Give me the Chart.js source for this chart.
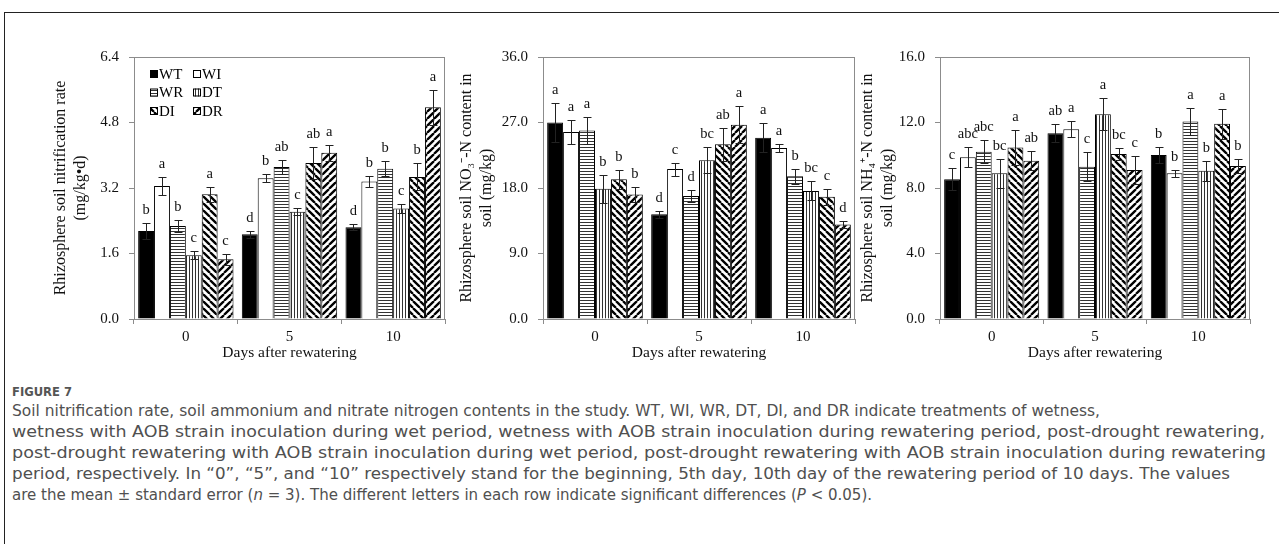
<!DOCTYPE html>
<html lang="en">
<head>
<meta charset="UTF-8" />
<title>Figure 7</title>
<script src="https://cdn.jsdelivr.net/npm/chart.js"></script>
<style>
  body { margin: 0; background: #fff; width: 1279px; height: 544px; overflow: hidden; position: relative; }
  #frame { position: absolute; left: 4px; top: 12px; width: 1300px; height: 600px;
           border-top: 1px solid #222; border-left: 1px solid #222; }
  canvas { position: absolute; top: 0; }
  .cap { position: absolute; left: 12px; width: max-content; white-space: nowrap; color: #505050;
         font-family: "Liberation Sans Narrow", "DejaVu Sans Condensed", "Open Sans", sans-serif;
         font-size: 15.5px; line-height: 18px; transform-origin: 0 50%; }
  #fig { font-size: 12.5px; font-weight: bold; color: #555; }
</style>
</head>
<body>
<div id="frame"></div>
<canvas id="c1" width="455" height="370" style="left:0"></canvas>
<canvas id="c2" width="401" height="370" style="left:455px"></canvas>
<canvas id="c3" width="420" height="370" style="left:856px"></canvas>

<div class="cap" id="fig" style="top:383px" data-w="60">FIGURE 7</div>
<div class="cap" style="top:402px" data-w="1088">Soil nitrification rate, soil ammonium and nitrate nitrogen contents in the study. WT, WI, WR, DT, DI, and DR indicate treatments of wetness,</div>
<div class="cap" style="top:423px" data-w="1253">wetness with AOB strain inoculation during wet period, wetness with AOB strain inoculation during rewatering period, post-drought rewatering,</div>
<div class="cap" style="top:444px" data-w="1254">post-drought rewatering with AOB strain inoculation during wet period, post-drought rewatering with AOB strain inoculation during rewatering</div>
<div class="cap" style="top:465px" data-w="1218">period, respectively. In “0”, “5”, and “10” respectively stand for the beginning, 5th day, 10th day of the rewatering period of 10 days. The values</div>
<div class="cap" style="top:486px" data-w="860">are the mean ± standard error (<i>n</i> = 3). The different letters in each row indicate significant differences (<i>P</i> &lt; 0.05).</div>

<script>
  const groups = ['0', '5', '10'];
  const treatments = ['WT', 'WI', 'WR', 'DT', 'DI', 'DR'];

  // rows = treatments, columns = days
  const nitrMeans = [
    [2.15, 2.07, 2.24],
    [3.25, 3.44, 3.36],
    [2.27, 3.71, 3.67],
    [1.56, 2.62, 2.70],
    [3.05, 3.81, 3.47],
    [1.46, 4.06, 5.17]
  ];
  const nitrErrs = [
    [0.19, 0.08, 0.07],
    [0.21, 0.10, 0.14],
    [0.15, 0.17, 0.18],
    [0.10, 0.08, 0.11],
    [0.18, 0.40, 0.33],
    [0.14, 0.20, 0.43]
  ];
  const nitrLetters = [
    ['b', 'd', 'd'],
    ['a', 'b', 'b'],
    ['b', 'ab', 'b'],
    ['c', 'c', 'c'],
    ['a', 'ab', 'b'],
    ['c', 'a', 'a']
  ];
  const nitrTicks = [0, 1.6, 3.2, 4.8, 6.4];

  const no3Means = [
    [27.0, 14.4, 24.9],
    [25.7, 20.6, 23.5],
    [25.9, 16.9, 19.6],
    [17.9, 21.8, 17.6],
    [19.2, 24.0, 16.8],
    [17.1, 26.7, 13.0]
  ];
  const no3Errs = [
    [2.7, 0.5, 2.0],
    [1.6, 0.9, 0.6],
    [1.8, 0.8, 1.0],
    [1.9, 1.8, 1.3],
    [1.3, 2.3, 1.1],
    [1.0, 2.5, 0.5]
  ];
  const no3Letters = [
    ['a', 'd', 'a'],
    ['a', 'c', 'a'],
    ['a', 'd', 'b'],
    ['b', 'bc', 'bc'],
    ['b', 'ab', 'c'],
    ['b', 'a', 'd']
  ];
  const no3Ticks = [0, 9, 18, 27, 36];

  const nh4Means = [
    [8.53, 11.35, 10.02],
    [9.88, 11.59, 8.90],
    [10.22, 9.30, 12.06],
    [8.90, 12.51, 9.06],
    [10.47, 10.08, 11.92],
    [9.67, 9.10, 9.35]
  ];
  const nh4Errs = [
    [0.67, 0.57, 0.47],
    [0.60, 0.50, 0.20],
    [0.70, 0.88, 0.82],
    [0.87, 0.96, 0.61],
    [1.08, 0.39, 0.92],
    [0.60, 0.88, 0.41]
  ];
  const nh4Letters = [
    ['c', 'ab', 'b'],
    ['abc', 'a', 'b'],
    ['abc', 'c', 'a'],
    ['bc', 'a', 'b'],
    ['a', 'bc', 'a'],
    ['ab', 'c', 'b']
  ];
  const nh4Ticks = [0, 4, 8, 12, 16];

  const serif = '"Liberation Serif", "Times New Roman", serif';
  const axisGray = '#8c8c8c';

  // fill patterns for the bars
  function hatch(kind) {
    const c = document.createElement('canvas');
    const g = c.getContext('2d');
    if (kind === 'solid') return '#000';
    if (kind === 'white') return '#fff';
    if (kind === 'h') {
      c.width = 4; c.height = 3;
      g.fillStyle = '#fff'; g.fillRect(0, 0, 4, 3);
      g.fillStyle = '#333'; g.fillRect(0, 0, 4, 1);
    } else if (kind === 'v') {
      c.width = 3; c.height = 4;
      g.fillStyle = '#fff'; g.fillRect(0, 0, 3, 4);
      g.fillStyle = '#333'; g.fillRect(0, 0, 1, 4);
    } else {
      const s = 7;
      c.width = s; c.height = s;
      g.fillStyle = '#fff'; g.fillRect(0, 0, s, s);
      g.strokeStyle = '#000'; g.lineWidth = 2.3;
      g.beginPath();
      for (let k = -1; k <= 1; k++) {
        if (kind === 'back') { g.moveTo(k * s, 0); g.lineTo(k * s + s, s); }
        else { g.moveTo(k * s, s); g.lineTo(k * s + s, 0); }
      }
      g.stroke();
    }
    return g.createPattern(c, 'repeat');
  }
  const fills = ['solid', 'white', 'h', 'v', 'back', 'fwd'].map(hatch);

  const boxPlugin = {
    id: 'box',
    afterDatasetsDraw(chart) {
      const a = chart.chartArea, ctx = chart.ctx;
      ctx.save();
      ctx.strokeStyle = axisGray;
      ctx.lineWidth = 1;
      ctx.strokeRect(Math.round(a.left) + 0.5, Math.round(a.top) + 0.5,
                     Math.round(a.right - a.left) - 1, Math.round(a.bottom - a.top));
      ctx.restore();
    }
  };

  function errPlugin(errs, letters) {
    return {
      id: 'errs',
      afterDatasetsDraw(chart) {
        const ctx = chart.ctx, ys = chart.scales.y;
        ctx.save();
        ctx.strokeStyle = '#222';
        ctx.lineWidth = 1;
        ctx.fillStyle = '#111';
        ctx.font = '14.5px ' + serif;
        ctx.textAlign = 'center';
        ctx.textBaseline = 'middle';
        chart.data.datasets.forEach((ds, i) => {
          chart.getDatasetMeta(i).data.forEach((bar, j) => {
            const m = ds.data[j], e = errs[i][j];
            const x = Math.round(bar.x) + 0.5;
            const yt = Math.round(ys.getPixelForValue(m + e)) + 0.5;
            const yb = Math.round(ys.getPixelForValue(m - e)) + 0.5;
            ctx.beginPath();
            ctx.moveTo(x, yt); ctx.lineTo(x, yb);
            ctx.moveTo(x - 4, yt); ctx.lineTo(x + 4, yt);
            ctx.moveTo(x - 4, yb); ctx.lineTo(x + 4, yb);
            ctx.stroke();
            ctx.fillText(letters[i][j], bar.x, yt - 13);
          });
        });
        ctx.restore();
      }
    };
  }

  const legendPlugin = {
    id: 'boxLegend',
    afterDraw(chart) {
      const ctx = chart.ctx, a = chart.chartArea;
      ctx.save();
      ctx.font = '15px ' + serif;
      ctx.textBaseline = 'middle';
      ctx.fillStyle = '#000';
      treatments.forEach((t, i) => {
        const col = i % 2, row = Math.floor(i / 2);
        const x = a.left + 16 + col * 43;
        const y = a.top + 17 + row * 18.5;
        ctx.fillStyle = fills[i];
        ctx.fillRect(x, y - 4, 8, 8);
        ctx.strokeStyle = '#000';
        ctx.lineWidth = 1;
        ctx.strokeRect(x + 0.5, y - 3.5, 7, 7);
        ctx.fillStyle = '#000';
        ctx.fillText(t, x + 9, y + 1);
      });
      ctx.restore();
    }
  };

  function makePanel(id, means, errs, letters, ticks, title, padLeft, yWidth, padRight, withLegend) {
    const plugins = [boxPlugin, errPlugin(errs, letters)];
    if (withLegend) plugins.push(legendPlugin);
    new Chart(document.getElementById(id), {
      type: 'bar',
      data: {
        labels: groups,
        datasets: treatments.map((t, i) => ({
          label: t,
          data: means[i],
          backgroundColor: fills[i],
          borderColor: '#000',
          borderWidth: 1,
          categoryPercentage: 0.92,
          barPercentage: 1
        }))
      },
      options: {
        responsive: false,
        animation: false,
        devicePixelRatio: 1,
        layout: { padding: { left: padLeft, right: padRight, top: 57, bottom: 8 } },
        plugins: { legend: { display: false }, tooltip: { enabled: false } },
        scales: {
          x: {
            offset: true,
            grid: { offset: true, drawOnChartArea: false, drawTicks: true, tickLength: 5, color: axisGray },
            border: { color: axisGray },
            ticks: { color: '#111', font: { family: serif, size: 15 }, padding: 4 },
            title: { display: true, text: 'Days after rewatering', color: '#111',
                     font: { family: serif, size: 15.5 }, padding: { top: 0, bottom: 0 } },
            afterFit: s => { s.height = 43; }
          },
          y: {
            min: ticks[0],
            max: ticks[ticks.length - 1],
            afterBuildTicks: s => { s.ticks = ticks.map(v => ({ value: v })); },
            grid: { drawOnChartArea: false, drawTicks: true, tickLength: 5, color: axisGray },
            border: { color: axisGray },
            ticks: { color: '#111', font: { family: serif, size: 15 }, padding: 10,
                     callback: v => Number(v).toFixed(1) },
            title: { display: true, text: title, color: '#111',
                     font: { family: serif, size: 16, lineHeight: 1.25 }, padding: { top: 0, bottom: 0 } },
            afterFit: s => { s.width = yWidth; }
          }
        }
      },
      plugins
    });
  }

  makePanel('c1', nitrMeans, nitrErrs, nitrLetters, nitrTicks,
            ['Rhizosphere soil nitrification rate', '(mg/kg•d)'], 51, 83, 10, true);
  makePanel('c2', no3Means, no3Errs, no3Letters, no3Ticks,
            ['Rhizosphere soil NO₃⁻-N content in', 'soil (mg/kg)'], 2, 86, 1, false);
  makePanel('c3', nh4Means, nh4Errs, nh4Letters, nh4Ticks,
            ['Rhizosphere soil NH₄⁺-N content in', 'soil (mg/kg)'], 2, 82, 26, false);

  // squeeze each caption line to its width in the figure
  document.querySelectorAll('.cap').forEach(el => {
    const w = el.getBoundingClientRect().width;
    el.style.transform = 'scaleX(' + (Number(el.dataset.w) / w).toFixed(4) + ')';
  });
</script>
</body>
</html>
